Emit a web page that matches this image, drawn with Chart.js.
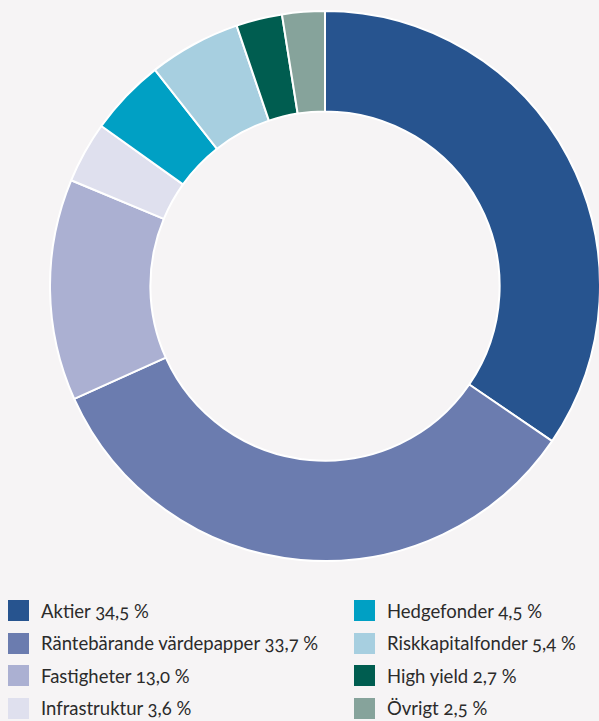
<!DOCTYPE html>
<html>
<head>
<meta charset="utf-8">
<script src="https://cdn.jsdelivr.net/npm/chart.js@4"></script>
<style>
  html, body { margin: 0; padding: 0; background: #f6f4f5; }
  body { width: 599px; height: 721px; position: relative; overflow: hidden; font-family: Lato, "Open Sans", sans-serif; }
  #wrap { position: absolute; left: 49px; top: 10px; width: 552px; height: 552px; }
  .legend { position: absolute; top: 600px; left: 0; width: 599px; }
  .item { position: absolute; height: 21px; display: flex; align-items: center; color: #2b2b2b; font-size: 18.5px; font-variant-numeric: oldstyle-nums; white-space: nowrap; }
  .item .sw { width: 21px; height: 21px; margin-right: 12px; flex: none; }
</style>
</head>
<body>
<div id="wrap"><canvas id="chart"></canvas></div>
<div class="legend" id="legend"></div>
<script>
  const labels = ['Aktier', 'Räntebärande värdepapper', 'Fastigheter', 'Infrastruktur', 'Hedgefonder', 'Riskkapitalfonder', 'High yield', 'Övrigt'];
  const values = [34.5, 33.7, 13.0, 3.6, 4.5, 5.4, 2.7, 2.5];
  const colors = ['#27548f', '#6b7caf', '#abb0d2', '#dfe0ee', '#00a0c4', '#a7cfe0', '#005d50', '#86a39b'];

  // legend: two columns of four
  const legend = document.getElementById('legend');
  labels.forEach((lab, i) => {
    const col = Math.floor(i / 4);
    const row = i % 4;
    const el = document.createElement('div');
    el.className = 'item';
    el.style.left = (col === 0 ? 8 : 354) + 'px';
    el.style.top = (row * 32.5) + 'px';
    const txt = values[i].toFixed(1).replace('.', ',') + ' %';
    el.innerHTML = `<span class="sw" style="background:${colors[i]}"></span><span>${lab} ${txt}</span>`;
    legend.appendChild(el);
  });

  new Chart(document.getElementById('chart'), {
    type: 'doughnut',
    data: {
      labels,
      datasets: [{ data: values, backgroundColor: colors, borderColor: '#ffffff', borderWidth: 2 }]
    },
    options: {
      responsive: true,
      maintainAspectRatio: false,
      animation: false,
      cutout: '63.5%',
      layout: { padding: 0 },
      plugins: { legend: { display: false }, tooltip: { enabled: false } }
    }
  });
</script>
</body>
</html>
